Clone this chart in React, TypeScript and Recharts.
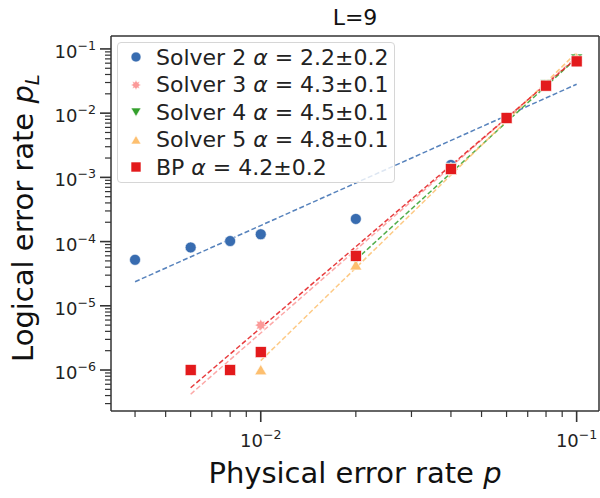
import React from "react";
import { ComposedChart, Scatter, XAxis, YAxis, Legend } from "recharts";

const FONT = "'DejaVu Sans', 'Liberation Sans', sans-serif";
const AXIS = "#333333";

// physical error rate p (x) and logical error rate p_L (y)
const pSolver2 = [0.004, 0.006, 0.008, 0.01, 0.02, 0.04, 0.06, 0.08, 0.1];
const plSolver2 = [5.2e-5, 8.1e-5, 1.02e-4, 1.3e-4, 2.25e-4, 1.56e-3, 8.4e-3, 2.75e-2, 6.5e-2];

const pSolver3 = [0.01, 0.02, 0.04, 0.06, 0.08, 0.1];
const plSolver3 = [5e-6, 6.2e-5, 1.4e-3, 8.5e-3, 2.75e-2, 6.7e-2];

const pSolver4 = [0.02, 0.04, 0.06, 0.08, 0.1];
const plSolver4 = [5.2e-5, 1.4e-3, 8.4e-3, 2.8e-2, 7.0e-2];

const pSolver5 = [0.01, 0.02, 0.04, 0.06, 0.08, 0.1];
const plSolver5 = [1e-6, 4.3e-5, 1.3e-3, 8.3e-3, 2.8e-2, 7.2e-2];

const pBP = [0.006, 0.008, 0.01, 0.02, 0.04, 0.06, 0.08, 0.1];
const plBP = [1e-6, 1e-6, 1.9e-6, 6e-5, 1.35e-3, 8.4e-3, 2.68e-2, 6.4e-2];

// fit lines (end points)
const fitP2 = [0.004, 0.1];
const fitPl2 = [2.37e-5, 2.82e-2];
const fitP3 = [0.006, 0.1];
const fitPl3 = [4.2e-7, 7.5e-2];
const fitP4 = [0.02, 0.1];
const fitPl4 = [5.2e-5, 7.2e-2];
const fitP5 = [0.01, 0.1];
const fitPl5 = [1.4e-6, 8.8e-2];
const fitPBP = [0.006, 0.1];
const fitPlBP = [5.3e-7, 7.2e-2];

const xDomain = [0.003357, 0.1177];
const yDomain = [2.3e-7, 0.159];

const xMajor = [0.01, 0.1];
const xMajorExp = ["\u22122", "\u22121"];
const yMajor = [1e-6, 1e-5, 1e-4, 1e-3, 1e-2, 1e-1];
const yMajorExp = ["\u22126", "\u22125", "\u22124", "\u22123", "\u22122", "\u22121"];
const minorMult = [2, 3, 4, 5, 6, 7, 8, 9];

const legendNames = ["Solver 2", "Solver 3", "Solver 4", "Solver 5", "BP"];
const legendAlpha = ["2.2\u00b10.2", "4.3\u00b10.1", "4.5\u00b10.1", "4.8\u00b10.1", "4.2\u00b10.2"];

const BLUE = "#386cb0";
const PINK = "#fb9a99";
const GREEN = "#33a02c";
const ORANGE = "#fdbf6f";
const RED = "#e31a1c";

const zip = (xs: number[], ys: number[]) => xs.map((p, i) => ({ p, pl: ys[i] }));

const minorTicks = (majors: number[], lo: number, hi: number) => {
  const out: number[] = [];
  [majors[0] / 10, ...majors].forEach((m) =>
    minorMult.forEach((k) => {
      const v = m * k;
      if (v > lo && v < hi) out.push(v);
    })
  );
  return out;
};

const xTicks = [...minorTicks(xMajor, xDomain[0], xDomain[1]), ...xMajor].sort((a, b) => a - b);
const yTicks = [...minorTicks(yMajor, yDomain[0], yDomain[1]), ...yMajor].sort((a, b) => a - b);

const majorIndex = (list: number[], v: number) =>
  list.findIndex((m) => Math.abs(Math.log10(m) - Math.log10(v)) < 1e-6);

const XTick = (props: any) => {
  const { x, y, payload } = props;
  const i = majorIndex(xMajor, payload.value);
  const major = i >= 0;
  return (
    <g>
      <line x1={x} x2={x} y1={y} y2={y + (major ? 11 : 6)} stroke={AXIS} strokeWidth={major ? 1.6 : 1.2} />
      {major && (
        <text x={x} y={y + 36} textAnchor="middle" fontSize={18} fill="#222" fontFamily={FONT}>
          10
          <tspan dy={-8} fontSize={12.6}>
            {xMajorExp[i]}
          </tspan>
        </text>
      )}
    </g>
  );
};

const YTick = (props: any) => {
  const { x, y, payload } = props;
  const i = majorIndex(yMajor, payload.value);
  const major = i >= 0;
  return (
    <g>
      <line x1={x - (major ? 11 : 6)} x2={x} y1={y} y2={y} stroke={AXIS} strokeWidth={major ? 1.6 : 1.2} />
      {major && (
        <text x={x - 15} y={y + 9} textAnchor="end" fontSize={18} fill="#222" fontFamily={FONT}>
          10
          <tspan dy={-8} fontSize={12.6}>
            {yMajorExp[i]}
          </tspan>
        </text>
      )}
    </g>
  );
};

// marker shapes (own radius prop "rad" so recharts' "size" does not override it)
const Circle = ({ cx, cy, rad = 5.5 }: any) => (
  <circle cx={cx} cy={cy} r={rad} fill={BLUE} stroke="#fff" strokeWidth={0.6} />
);
const Square = ({ cx, cy, rad = 5.5 }: any) => (
  <rect x={cx - rad} y={cy - rad} width={rad * 2} height={rad * 2} fill={RED} stroke="#fff" strokeWidth={0.6} />
);
const TriDown = ({ cx, cy, rad = 6 }: any) => (
  <polygon
    points={`${cx - rad},${cy - rad * 0.8} ${cx + rad},${cy - rad * 0.8} ${cx},${cy + rad * 0.9}`}
    fill={GREEN}
    stroke="#fff"
    strokeWidth={0.6}
  />
);
const TriUp = ({ cx, cy, rad = 6 }: any) => (
  <polygon
    points={`${cx - rad},${cy + rad * 0.8} ${cx + rad},${cy + rad * 0.8} ${cx},${cy - rad * 0.9}`}
    fill={ORANGE}
    stroke="#fff"
    strokeWidth={0.6}
  />
);
const Star = ({ cx, cy, rad = 6 }: any) => {
  const pts: string[] = [];
  for (let k = 0; k < 16; k++) {
    const r = k % 2 === 0 ? rad : rad * 0.6;
    const a = (Math.PI * k) / 8;
    pts.push(`${cx + r * Math.sin(a)},${cy - r * Math.cos(a)}`);
  }
  return <polygon points={pts.join(" ")} fill={PINK} stroke="#fff" strokeWidth={0.5} />;
};
const Nothing = () => <g />;

const legendShapes = [Circle, Star, TriDown, TriUp, Square];

const LegendBox = () => (
  <div
    style={{
      position: "relative",
      width: 278,
      height: 141,
      boxSizing: "border-box",
      border: "1px solid #d6d6d6",
      borderRadius: 4,
      background: "rgba(255,255,255,0.8)",
      fontFamily: FONT,
      fontSize: 22,
      color: "#222",
    }}
  >
    {legendNames.map((name, i) => {
      const Shape = legendShapes[i];
      return (
        <div
          key={name}
          style={{
            position: "absolute",
            left: 0,
            top: i * 27.5,
            height: 28,
            display: "flex",
            alignItems: "center",
            whiteSpace: "nowrap",
          }}
        >
          <svg width={38} height={28} style={{ display: "block" }}>
            <Shape cx={18} cy={14} rad={5} />
          </svg>
          <span>
            {name} <i>{"\u03b1"}</i> = {legendAlpha[i]}
          </span>
        </div>
      );
    })}
  </div>
);

const fitLine = (color: string) => ({ stroke: color, strokeWidth: 1.5, strokeDasharray: "5 2.5", strokeOpacity: 0.85 });
const frame = { stroke: AXIS, strokeWidth: 1.5 };

export default function App() {
  return (
    <div style={{ position: "absolute", left: 0, top: 0, width: 600, height: 498, background: "#fff" }}>
      <ComposedChart width={600} height={498} margin={{ top: 35, right: 0, bottom: 0, left: 0 }}>
        <XAxis
          dataKey="p"
          type="number"
          scale="log"
          domain={xDomain}
          allowDataOverflow
          ticks={xTicks}
          interval={0}
          tick={<XTick />}
          tickLine={false}
          axisLine={frame}
          tickSize={0}
          tickMargin={0}
          height={87}
          label={(props: any) => {
            const vb = props.viewBox;
            return (
              <text x={vb.x + vb.width / 2} y={vb.y + 72} textAnchor="middle" fontSize={29} fill="#111" fontFamily={FONT}>
                Physical error rate <tspan fontStyle="italic">p</tspan>
              </text>
            );
          }}
        />
        <XAxis
          xAxisId="top"
          dataKey="p"
          orientation="top"
          type="number"
          scale="log"
          domain={xDomain}
          allowDataOverflow
          ticks={xTicks}
          tick={false}
          tickLine={false}
          axisLine={frame}
          height={1}
          label={(props: any) => {
            const vb = props.viewBox;
            return (
              <text x={vb.x + vb.width / 2} y={25} textAnchor="middle" fontSize={22} fill="#111" fontFamily={FONT}>
                L=9
              </text>
            );
          }}
        />
        <YAxis
          dataKey="pl"
          type="number"
          scale="log"
          domain={yDomain}
          allowDataOverflow
          ticks={yTicks}
          interval={0}
          tick={<YTick />}
          tickLine={false}
          axisLine={frame}
          tickSize={0}
          tickMargin={0}
          width={111}
          label={() => (
            <text
              x={33}
              y={218}
              transform="rotate(-90 33 218)"
              textAnchor="middle"
              fontSize={29}
              fill="#111"
              fontFamily={FONT}
            >
              Logical error rate <tspan fontStyle="italic">p</tspan>
              <tspan fontStyle="italic" fontSize={20} dy={6}>
                L
              </tspan>
            </text>
          )}
        />
        <YAxis
          yAxisId="right"
          dataKey="pl"
          orientation="right"
          type="number"
          scale="log"
          domain={yDomain}
          allowDataOverflow
          ticks={yTicks}
          tick={false}
          tickLine={false}
          axisLine={frame}
          width={1}
        />
        <Legend
          layout="horizontal"
          verticalAlign="middle"
          align="center"
          wrapperStyle={{ position: "absolute", left: 117, top: 42, width: 278, height: 141 }}
          content={() => <LegendBox />}
        />

        <Scatter
          data={zip(fitP2, fitPl2)}
          xAxisId="top"
          yAxisId="right"
          line={fitLine(BLUE)}
          shape={<Nothing />}
          isAnimationActive={false}
          legendType="none"
        />
        <Scatter data={zip(fitP3, fitPl3)} line={fitLine(PINK)} shape={<Nothing />} isAnimationActive={false} legendType="none" />
        <Scatter data={zip(fitP4, fitPl4)} line={fitLine(GREEN)} shape={<Nothing />} isAnimationActive={false} legendType="none" />
        <Scatter data={zip(fitP5, fitPl5)} line={fitLine(ORANGE)} shape={<Nothing />} isAnimationActive={false} legendType="none" />
        <Scatter data={zip(fitPBP, fitPlBP)} line={fitLine(RED)} shape={<Nothing />} isAnimationActive={false} legendType="none" />

        <Scatter name="Solver 2" data={zip(pSolver2, plSolver2)} shape={<Circle />} isAnimationActive={false} />
        <Scatter name="Solver 3" data={zip(pSolver3, plSolver3)} shape={<Star />} isAnimationActive={false} />
        <Scatter name="Solver 4" data={zip(pSolver4, plSolver4)} shape={<TriDown />} isAnimationActive={false} />
        <Scatter name="Solver 5" data={zip(pSolver5, plSolver5)} shape={<TriUp />} isAnimationActive={false} />
        <Scatter name="BP" data={zip(pBP, plBP)} shape={<Square />} isAnimationActive={false} />
      </ComposedChart>
    </div>
  );
}
